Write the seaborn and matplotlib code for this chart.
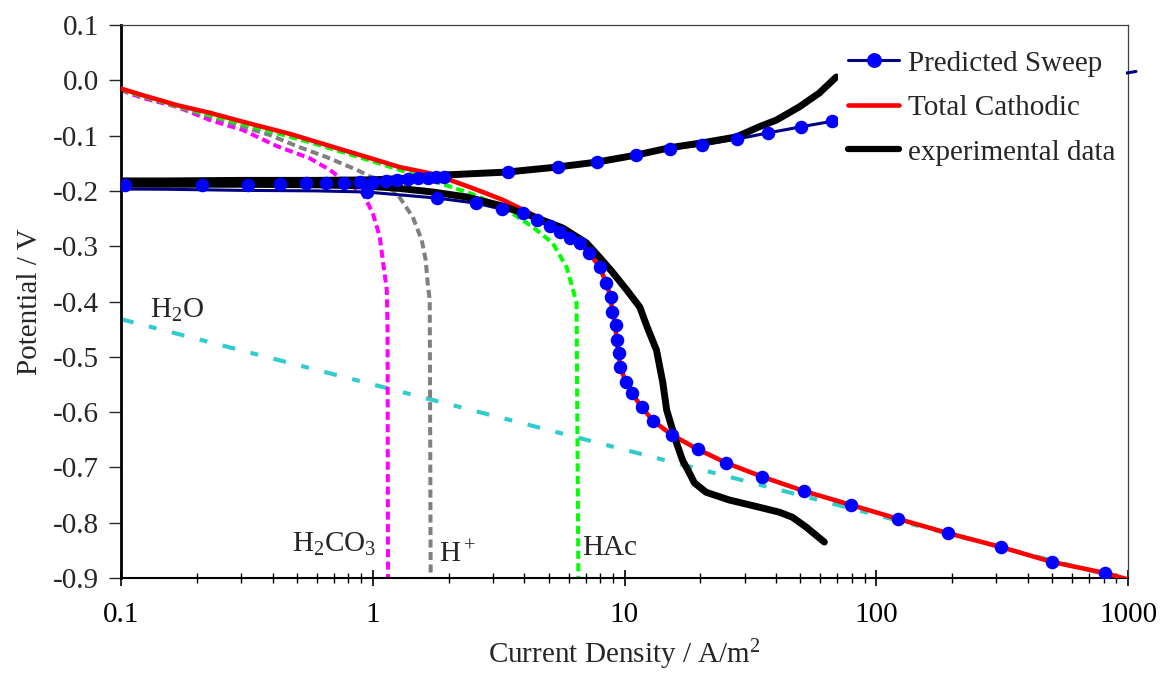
import numpy as np
import pandas as pd
import matplotlib
matplotlib.use("Agg")
import matplotlib.pyplot as plt
import seaborn as sns
from matplotlib.lines import Line2D
from matplotlib.ticker import LogLocator, NullFormatter, FixedLocator, FixedFormatter

# ---- data ----
# total cathodic current
total_x = [0.1, 0.122, 0.167, 0.226, 0.305, 0.469, 0.656, 0.888, 1.28, 1.68, 2.02, 2.49,
           3.28, 4.20, 4.90, 5.52, 6.63, 7.26, 7.96, 8.48, 8.80, 8.96, 9.21, 9.30, 9.47,
           9.64, 10.1, 10.7, 11.7, 13.0, 15.4, 19.5, 25.4, 35.3, 51.8, 79.6, 122, 193,
           313, 499, 811, 1100]
total_v = [-0.015, -0.027, -0.045, -0.059, -0.075, -0.097, -0.117, -0.135, -0.157, -0.168,
           -0.180, -0.195, -0.216, -0.240, -0.256, -0.274, -0.294, -0.312, -0.338, -0.367,
           -0.392, -0.419, -0.443, -0.470, -0.493, -0.518, -0.546, -0.566, -0.591, -0.616,
           -0.641, -0.667, -0.692, -0.717, -0.743, -0.768, -0.793, -0.819, -0.844, -0.871,
           -0.891, -0.908]

# H2CO3, H+, HAc, H2O partial currents
h2co3_x = [0.1, 0.122, 0.167, 0.226, 0.305, 0.416, 0.562, 0.675, 0.760, 0.912, 1.0, 1.066,
           1.096, 1.137, 1.145, 1.15]
h2co3_v = [-0.018, -0.032, -0.048, -0.072, -0.090, -0.119, -0.141, -0.162, -0.180, -0.204,
           -0.240, -0.283, -0.325, -0.379, -0.45, -0.95]
hplus_x = [0.1, 0.161, 0.226, 0.305, 0.390, 0.499, 0.656, 0.865, 1.037, 1.245, 1.441, 1.565,
           1.623, 1.653, 1.684, 1.70]
hplus_v = [-0.016, -0.045, -0.065, -0.084, -0.099, -0.119, -0.139, -0.162, -0.180, -0.204,
           -0.247, -0.289, -0.325, -0.367, -0.397, -0.95]
hac_x = [0.1, 0.122, 0.226, 0.562, 0.912, 1.28, 1.845, 2.43, 3.28, 4.31, 5.18, 5.89, 6.22,
         6.45, 6.57]
hac_v = [-0.017, -0.029, -0.063, -0.112, -0.141, -0.162, -0.186, -0.204, -0.229, -0.265,
         -0.294, -0.338, -0.376, -0.403, -0.95]
h2o_x = [0.1, 1000]
h2o_v = [-0.432, -0.904]

# predicted sweep: cathodic points (dots), tail below 0.1, anodic points (dots)
pred_cath_x = [811, 499, 313, 193, 122, 79.6, 51.8, 35.3, 25.4, 19.5, 15.4, 13.0, 11.7, 10.7,
               10.1, 9.64, 9.47, 9.30, 9.21, 8.96, 8.80, 8.48, 7.96, 7.26, 6.63, 6.05, 5.52,
               5.04, 4.48, 3.94, 3.25, 2.56, 1.80, 0.946]
pred_cath_v = [-0.891, -0.871, -0.844, -0.819, -0.793, -0.768, -0.743, -0.717, -0.692, -0.667,
               -0.641, -0.616, -0.591, -0.566, -0.546, -0.518, -0.493, -0.470, -0.443, -0.419,
               -0.392, -0.367, -0.338, -0.312, -0.294, -0.285, -0.274, -0.264, -0.253, -0.240,
               -0.233, -0.222, -0.213, -0.202]
pred_tail_x = [0.6, 0.3, 0.15, 0.05, 0.05]
pred_tail_v = [-0.200, -0.199, -0.197, -0.196, -0.190]
pred_anod_x = [0.104, 0.210, 0.319, 0.428, 0.542, 0.650, 0.767, 0.888, 1.0, 1.127, 1.245, 1.377,
               1.509, 1.653, 1.778, 1.914, 3.43, 5.42, 7.81, 11.06, 15.1, 20.4, 28.1, 37.3,
               50.4, 66.9]
pred_anod_v = [-0.189, -0.190, -0.190, -0.1875, -0.186, -0.186, -0.186, -0.184, -0.184, -0.182,
               -0.180, -0.1785, -0.177, -0.177, -0.175, -0.175, -0.166, -0.157, -0.148, -0.135,
               -0.124, -0.117, -0.106, -0.095, -0.084, -0.074]
pred_end_x = [66.9, 1076]
pred_end_v = [-0.074, 0.016]

# experimental data
exp_cath_x = [62.2, 52.7, 46.4, 41.2, 34.3, 26.1, 21.1, 18.95, 18.1, 17.0, 16.1, 14.7, 14.2,
              13.4, 12.3, 11.5, 10.2, 8.96, 7.96, 7.06, 5.68, 4.20, 3.19, 2.36, 1.73, 1.245,
              0.912, 0.6, 0.3, 0.15, 0.08]
exp_cath_v = [-0.835, -0.808, -0.790, -0.781, -0.772, -0.759, -0.745, -0.728, -0.710, -0.687,
              -0.656, -0.596, -0.547, -0.488, -0.446, -0.410, -0.379, -0.347, -0.320, -0.294,
              -0.267, -0.244, -0.226, -0.211, -0.202, -0.195, -0.191, -0.189, -0.188, -0.188,
              -0.188]
exp_anod_x = [0.08, 0.15, 0.3, 0.6, 1.0, 1.4, 1.97, 3.40, 5.37, 7.74, 11.2, 15.1, 20.4, 27.8,
              34.3, 40.1, 49.5, 59.4, 69.4]
exp_anod_v = [-0.182, -0.182, -0.181, -0.181, -0.180, -0.177, -0.171, -0.166, -0.157, -0.148,
              -0.135, -0.122, -0.113, -0.1025, -0.084, -0.072, -0.048, -0.023, 0.006]

x_ticks = [0.1, 1, 10, 100, 1000]
x_tick_labels = ["0.1", "1", "10", "100", "1000"]
y_ticks = [-0.9, -0.8, -0.7, -0.6, -0.5, -0.4, -0.3, -0.2, -0.1, 0.0, 0.1]
y_tick_labels = ["-0.9", "-0.8", "-0.7", "-0.6", "-0.5", "-0.4", "-0.3", "-0.2", "-0.1", "0.0", "0.1"]

legend_labels = ["Predicted Sweep", "Total Cathodic", "experimental data"]

# ---- style ----
sns.set_style("ticks")
plt.rcParams["font.family"] = ["Liberation Serif", "DejaVu Serif"]
plt.rcParams["mathtext.fontset"] = "custom"
plt.rcParams["mathtext.rm"] = "Liberation Serif"
plt.rcParams["mathtext.it"] = "Liberation Serif:italic"
plt.rcParams["axes.unicode_minus"] = False
FS = 21

fig, ax = plt.subplots(figsize=(11.61, 6.73), dpi=100)
fig.subplots_adjust(left=121 / 1161, right=1128 / 1161, bottom=1 - 578 / 673, top=1 - 25 / 673)

DASH = (0, (2, 1.1))

# partial currents (dashed)
sns.lineplot(x=h2o_x, y=h2o_v, ax=ax, sort=False, estimator=None, color="#33CCCC",
             linewidth=3.0, linestyle=(0, (3.1, 3.8, 1.9, 3.8)), zorder=2)
sns.lineplot(x=h2co3_x, y=h2co3_v, ax=ax, sort=False, estimator=None, color="#FF00FF",
             linewidth=2.9, linestyle=DASH, zorder=2)
sns.lineplot(x=hplus_x, y=hplus_v, ax=ax, sort=False, estimator=None, color="#808080",
             linewidth=2.9, linestyle=DASH, zorder=2)
sns.lineplot(x=hac_x, y=hac_v, ax=ax, sort=False, estimator=None, color="#00FF00",
             linewidth=2.9, linestyle=DASH, zorder=2)

# predicted sweep line
pred_x = pred_cath_x + pred_tail_x + pred_anod_x
pred_v = pred_cath_v + pred_tail_v + pred_anod_v
sns.lineplot(x=pred_x, y=pred_v, ax=ax, sort=False, estimator=None, color="#000080",
             linewidth=2.2, zorder=3)
sns.lineplot(x=pred_end_x, y=pred_end_v, ax=ax, sort=False, estimator=None, color="#000080",
             linewidth=2.2, zorder=3, clip_on=False)

# total cathodic
sns.lineplot(x=total_x, y=total_v, ax=ax, sort=False, estimator=None, color="#FF0000",
             linewidth=3.3, zorder=4)

# experimental
exp_x = exp_cath_x + exp_anod_x
exp_v = exp_cath_v + exp_anod_v
sns.lineplot(x=exp_x, y=exp_v, ax=ax, sort=False, estimator=None, color="black",
             linewidth=5.0, zorder=5, solid_joinstyle="round", solid_capstyle="round")

# predicted dots
sns.scatterplot(x=pred_cath_x + pred_anod_x, y=pred_cath_v + pred_anod_v, ax=ax,
                color="#0000FF", edgecolor="#0000FF", s=95, linewidth=0, zorder=6)

ax.set_xscale("log")
ax.set_xlim(0.1, 1000)
ax.set_ylim(-0.9, 0.1)
ax.xaxis.set_major_locator(FixedLocator(x_ticks))
ax.xaxis.set_major_formatter(FixedFormatter(x_tick_labels))
ax.xaxis.set_minor_locator(LogLocator(base=10, subs=np.arange(2, 10)))
ax.xaxis.set_minor_formatter(NullFormatter())
ax.yaxis.set_major_locator(FixedLocator(y_ticks))
ax.yaxis.set_major_formatter(FixedFormatter(y_tick_labels))

ax.tick_params(axis="x", which="major", direction="inout", length=11, width=1.2,
               labelsize=FS, pad=12, colors="black")
ax.tick_params(axis="x", which="minor", direction="inout", length=7, width=1, colors="black")
ax.tick_params(axis="y", which="major", direction="out", length=9, width=1,
               labelsize=FS, pad=7)

for side in ["top", "right"]:
    ax.spines[side].set_visible(True)
    ax.spines[side].set_linewidth(0.9)
    ax.spines[side].set_color("#404040")
ax.spines["left"].set_linewidth(2.0)
ax.spines["left"].set_color("black")
ax.spines["bottom"].set_linewidth(1.5)
ax.spines["bottom"].set_color("black")

ax.set_xlabel("Current Density / A/m$^2$", fontsize=FS)
ax.set_ylabel("Potential / V", fontsize=FS)
ax.xaxis.set_label_coords(0.5, -0.108)
ax.yaxis.set_label_coords(-0.077, 0.5)

# species labels
ax.text(0.13, -0.430, "H$_2$O", fontsize=FS, ha="left", va="baseline")
ax.text(0.477, -0.853, "H$_2$CO$_3$", fontsize=FS, ha="left", va="baseline")
ax.text(1.84, -0.871, "H$^+$", fontsize=FS, ha="left", va="baseline")
ax.text(6.76, -0.858, "HAc", fontsize=FS, ha="left", va="baseline")

handles = [
    Line2D([], [], color="#000080", linewidth=2.2, marker="o", markersize=9.7,
           markerfacecolor="#0000FF", markeredgecolor="#0000FF"),
    Line2D([], [], color="#FF0000", linewidth=3.3),
    Line2D([], [], color="black", linewidth=4.5),
]
leg = ax.legend(handles, legend_labels, loc="upper left", bbox_to_anchor=(0.712, 0.973),
                frameon=True, fancybox=False, borderpad=0.35, borderaxespad=0,
                handlelength=1.75, handletextpad=0.3, labelspacing=0.62, numpoints=1,
                fontsize=FS)
leg.get_frame().set_edgecolor("none")
leg.get_frame().set_facecolor("white")
leg.get_frame().set_alpha(1.0)
leg.set_zorder(10)

fig.savefig("out.png", dpi=100)
